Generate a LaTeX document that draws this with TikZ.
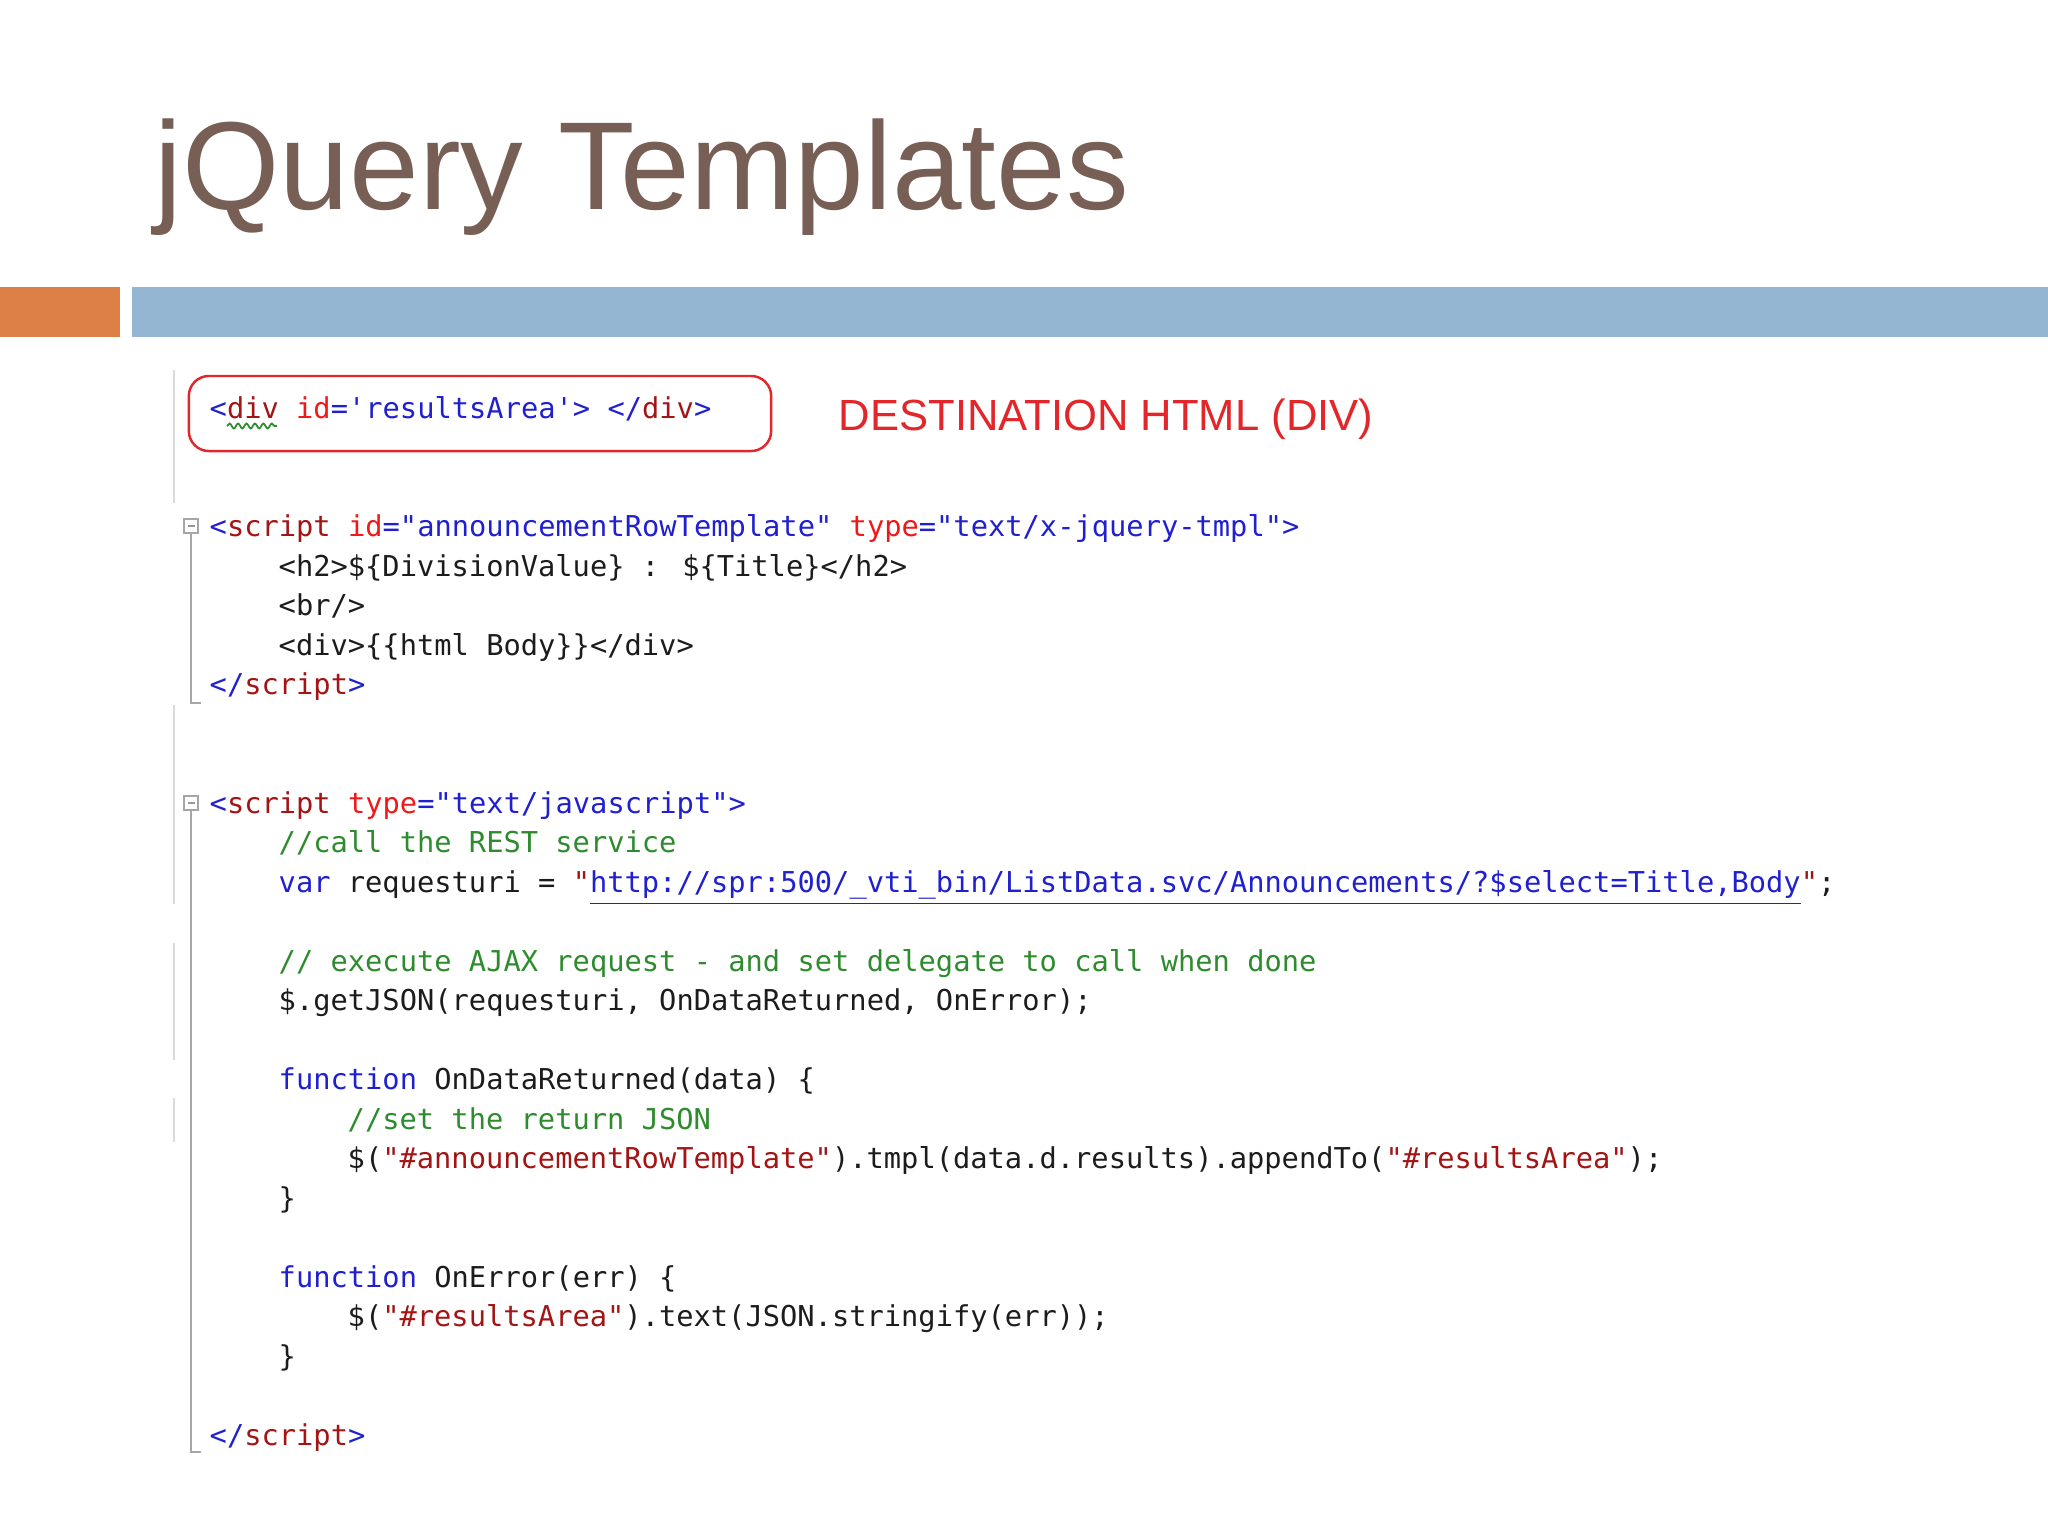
\documentclass[tikz,border=0pt]{standalone}
\usepackage{fontspec}
\usepackage{xcolor}
\usepackage{tikz}
\usetikzlibrary{decorations.pathmorphing}
\setmainfont{Liberation Sans}
\newfontfamily\codefont[Ligatures=TeXOff]{DejaVu Sans Mono}

\definecolor{titlebrown}{HTML}{775F55}
\definecolor{barorange}{HTML}{DD8047}
\definecolor{barblue}{HTML}{94B6D2}
\definecolor{destred}{HTML}{E2262A}
\definecolor{tagmaroon}{HTML}{A31515}
\definecolor{attrred}{HTML}{F01818}
\definecolor{valblue}{HTML}{2020D0}
\definecolor{comgreen}{HTML}{2E8B2E}
\definecolor{codeblack}{HTML}{1C1C1C}

\newcommand{\cbr}[1]{\textcolor{valblue}{#1}}
\newcommand{\ctag}[1]{\textcolor{tagmaroon}{#1}}
\newcommand{\cattr}[1]{\textcolor{attrred}{#1}}
\newcommand{\cval}[1]{\textcolor{valblue}{#1}}
\newcommand{\ccom}[1]{\textcolor{comgreen}{#1}}
\newcommand{\ckw}[1]{\textcolor{valblue}{#1}}
\newcommand{\cstr}[1]{\textcolor{tagmaroon}{#1}}
\newcommand{\curl}[1]{\textcolor{valblue}{\underline{#1}}}

\begin{document}
\begin{tikzpicture}[x=0.01cm, y=-0.01cm,
		code/.style={anchor=base west, inner sep=0pt, text=codeblack, font=\codefont\fontsize{8.17}{10}\selectfont},
		divbox/.style={draw=destred, line width=0.7pt, rounded corners=0.2cm, minimum width=5.82cm, minimum height=0.75cm},
		foldbox/.style={draw=gray!70, fill=white, line width=0.5pt, minimum size=0.14cm, inner sep=0pt,
			path picture={\draw[gray!80, line width=0.6pt] ([xshift=0.035cm]path picture bounding box.west) -- ([xshift=-0.035cm]path picture bounding box.east);}},
		foldline/.style={draw=gray!70, line width=0.6pt},
		marginline/.style={draw=gray!28, line width=0.6pt}
	]
	\useasboundingbox (0,0) rectangle (2048,1536);

	\node[anchor=base west, inner sep=0pt, text=titlebrown, font=\fontsize{35.6}{40}\selectfont] (title) at (154,209) {jQuery Templates};

	\fill[barorange] (0,287) rectangle (120,337);
	\fill[barblue] (132,287) rectangle (2048,337);

	\draw[marginline] (174,370) -- (174,503);
	\draw[marginline] (174,705) -- (174,904);
	\draw[marginline] (174,943) -- (174,1060);
	\draw[marginline] (174,1098) -- (174,1142);

	\node[divbox] (divbox) at (480,413.5) {};
	\node[code] (divline) at (209,418) {\cbr{<}\ctag{div} \cattr{id}\cbr{=}\cval{'resultsArea'}\cbr{>} \cbr{</}\ctag{div}\cbr{>}};
	\draw[comgreen, line width=0.5pt, decorate, decoration={snake, amplitude=0.7pt, segment length=2.4pt}] (227,426) -- (277,426);
	\node[anchor=base west, inner sep=0pt, text=destred, font=\fontsize{12.4}{15}\selectfont] (desttext) at (838,430) {DESTINATION HTML (DIV)};

	\node[foldbox] (fold1) at (191,526) {};
	\coordinate (fold1end) at (201,703);
	\draw[foldline] (fold1.south) |- (fold1end);
	\node[code] (tmplopen) at (209,536.5) {\cbr{<}\ctag{script} \cattr{id}\cbr{=}\cval{"announcementRowTemplate"} \cattr{type}\cbr{=}\cval{"text/x-jquery-tmpl"}\cbr{>}};
	\node[code] (tmplh2) at (278,576) {<h2>\$\{DivisionValue\} : \$\{Title\}</h2>};
	\node[code] (tmplbr) at (278,615.5) {<br/>};
	\node[code] (tmplbody) at (278,655) {<div>\{\{html Body\}\}</div>};
	\node[code] (tmplclose) at (209,694.5) {\cbr{</}\ctag{script}\cbr{>}};

	\node[foldbox] (fold2) at (191,803) {};
	\coordinate (fold2end) at (201,1452);
	\draw[foldline] (fold2.south) |- (fold2end);
	\node[code] (jsopen) at (209,813) {\cbr{<}\ctag{script} \cattr{type}\cbr{=}\cval{"text/javascript"}\cbr{>}};
	\node[code] (jscall) at (278,852.5) {\ccom{//call the REST service}};
	\node[code] (jsvar) at (278,892) {\ckw{var} requesturi = \cstr{"}\curl{http://spr:500/\_vti\_bin/ListData.svc/Announcements/?\$select=Title,Body}\cstr{"};};
	\node[code] (jsajax) at (278,971) {\ccom{// execute AJAX request - and set delegate to call when done}};
	\node[code] (jsget) at (278,1010.5) {\$.getJSON(requesturi, OnDataReturned, OnError);};

	\node[code] (jsfunc1) at (278,1089.5) {\ckw{function} OnDataReturned(data) \{};
	\node[code] (jsset) at (347,1129) {\ccom{//set the return JSON}};
	\node[code] (jsappend) at (347,1168.5) {\$(\cstr{"\#announcementRowTemplate"}).tmpl(data.d.results).appendTo(\cstr{"\#resultsArea"});};
	\node[code] (jsend1) at (278,1208) {\}};

	\node[code] (jsfunc2) at (278,1287) {\ckw{function} OnError(err) \{};
	\node[code] (jstext) at (347,1326.5) {\$(\cstr{"\#resultsArea"}).text(JSON.stringify(err));};
	\node[code] (jsend2) at (278,1366) {\}};

	\node[code] (jsclose) at (209,1445) {\cbr{</}\ctag{script}\cbr{>}};
\end{tikzpicture}
\end{document}
